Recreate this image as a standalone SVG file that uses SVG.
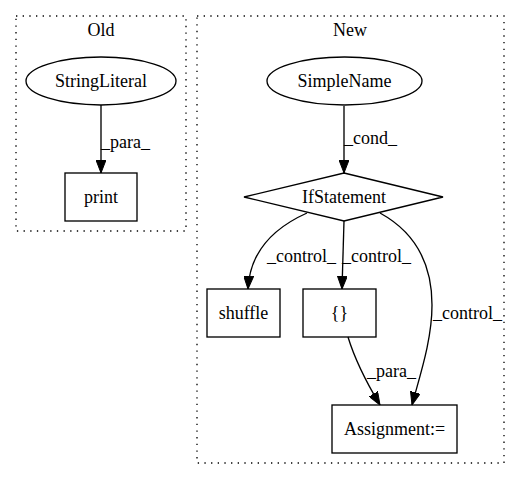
<svg xmlns="http://www.w3.org/2000/svg" width="520" height="480" viewBox="0 0 520 480">
<style>
text{font-family:"Liberation Serif","Times New Roman",serif;font-size:18px;fill:#000}
.cl{fill:none;stroke:#000;stroke-width:1.33;stroke-dasharray:1.33,5.33}
.nd{fill:none;stroke:#000;stroke-width:1.33}
.ed{fill:none;stroke:#000;stroke-width:1.33;marker-end:url(#ah)}
.c{text-anchor:middle}
</style>
<defs>
<marker id="ah" markerUnits="userSpaceOnUse" viewBox="0 0 13 10" refX="13" refY="5" markerWidth="13" markerHeight="10" orient="auto">
<path d="M0,0 L13,5 L0,10 Z" fill="#000" stroke="#000" stroke-width="1"/>
</marker>
</defs>
<rect width="520" height="480" fill="#fff"/>
<g id="cluster-old">
<rect class="cl" x="16" y="16" width="170" height="215"/>
<text class="c" x="101" y="36">Old</text>
</g>
<g id="cluster-new">
<rect class="cl" x="197" y="16" width="307" height="447"/>
<text class="c" x="350" y="36">New</text>
</g>
<g id="connectors">
<path class="ed" d="M101,105 L101,173"/>
<text x="101" y="148">_para_</text>
<path class="ed" d="M344,106 L344,173"/>
<text x="344" y="144">_cond_</text>
<path class="ed" d="M307,213 C278,226 250,248 248,289"/>
<text x="267" y="262">_control_</text>
<path class="ed" d="M344,221 L342,289"/>
<text x="342" y="262">_control_</text>
<path class="ed" d="M380,213 C420,235 432,270 432,305 C432,340 420,375 412,405"/>
<text x="433" y="319">_control_</text>
<path class="ed" d="M348,337 C355,360 368,385 380,405"/>
<text x="367" y="377">_para_</text>
</g>
<g id="StringLiteral">
<ellipse class="nd" cx="101" cy="81" rx="75" ry="24"/>
<text class="c" x="101" y="87">StringLiteral</text>
</g>
<g id="print">
<rect class="nd" x="65" y="173" width="72" height="48"/>
<text class="c" x="101" y="203">print</text>
</g>
<g id="SimpleName">
<ellipse class="nd" cx="344.5" cy="81" rx="77.5" ry="24"/>
<text class="c" x="344.5" y="87">SimpleName</text>
</g>
<g id="IfStatement">
<polygon class="nd" points="344,173 443,197 344,221 244,197"/>
<text class="c" x="344" y="203">IfStatement</text>
</g>
<g id="shuffle">
<rect class="nd" x="207" y="289" width="73" height="48"/>
<text class="c" x="243.5" y="319">shuffle</text>
</g>
<g id="braces">
<rect class="nd" x="303" y="289" width="73" height="48"/>
<text class="c" x="339.5" y="319">{}</text>
</g>
<g id="Assignment">
<rect class="nd" x="332" y="405" width="125" height="48"/>
<text class="c" x="394.5" y="435">Assignment:=</text>
</g>
</svg>
